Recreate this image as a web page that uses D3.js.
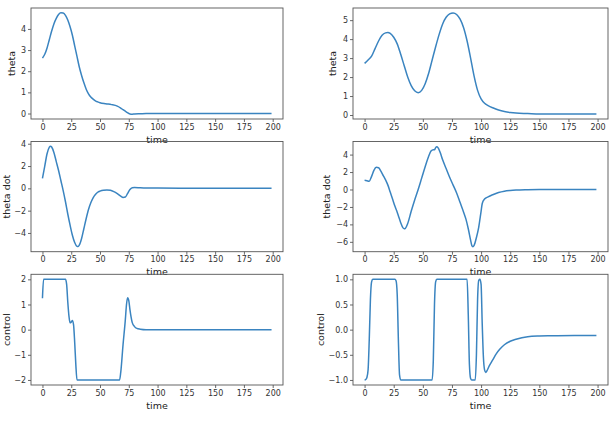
<!DOCTYPE html>
<html><head><meta charset="utf-8">
<script src="https://cdn.jsdelivr.net/npm/d3@7"></script>
<style>html,body{margin:0;padding:0;background:#fff;}svg{display:block;}</style>
</head><body>
<script>
// ---------- DATA ----------
const xTicks = [0, 25, 50, 75, 100, 125, 150, 175, 200];

const thetaL_t = [0,2,4,6,8,10,12,14,16,18,20,22,24,26,28,30,32,34,36,38,40,42,44,46,48,50,55,60,65,68,70,73,76,78,80,85,90,120,160,199];
const thetaL_v = [2.62,2.8,3.1,3.5,3.9,4.25,4.5,4.68,4.76,4.75,4.64,4.42,4.1,3.7,3.2,2.7,2.2,1.8,1.45,1.15,0.93,0.78,0.68,0.6,0.55,0.51,0.46,0.42,0.35,0.26,0.18,0.07,-0.02,-0.03,-0.02,-0.01,0,0,0,0];

const thetaR_t = [0,3,6,9,12,15,18,20,22,25,28,31,34,37,40,43,46,49,52,55,58,61,64,67,70,73,76,79,82,85,88,91,94,97,100,103,106,110,115,120,125,130,140,150,170,199];
const thetaR_v = [2.72,2.9,3.1,3.5,3.9,4.2,4.33,4.35,4.3,4.1,3.75,3.2,2.6,2.0,1.55,1.28,1.18,1.3,1.65,2.2,2.9,3.6,4.25,4.8,5.15,5.33,5.38,5.3,5.05,4.6,3.9,3.0,2.05,1.3,0.85,0.62,0.5,0.38,0.26,0.18,0.13,0.1,0.08,0.06,0.05,0.05];

const thetaDotL_t = [0,2,4,6,7,8,10,12,14,16,18,20,22,24,26,28,30,31,32,34,36,38,40,42,44,46,48,50,53,56,59,62,65,68,70,72,74,76,78,80,85,90,100,120,150,199];
const thetaDotL_v = [0.9,2.0,3.1,3.7,3.78,3.7,3.2,2.4,1.6,0.7,-0.2,-1.2,-2.3,-3.3,-4.2,-4.85,-5.2,-5.22,-5.1,-4.5,-3.6,-2.7,-1.9,-1.3,-0.85,-0.55,-0.35,-0.25,-0.17,-0.15,-0.18,-0.3,-0.48,-0.7,-0.82,-0.78,-0.45,-0.1,0.06,0.08,0.05,0.03,0.02,0.01,0,0];

const thetaDotR_t = [0,2,4,6,8,10,12,14,16,18,20,22,24,26,28,29,31,33,34,35,37,40,43,46,49,52,55,57,59,60,61,62,63,65,67,70,73,76,79,82,85,87,89,91,92,93,94,96,98,100,101,103,106,110,115,120,125,130,140,150,170,199];
const thetaDotR_v = [1.05,1.0,0.95,1.5,2.2,2.55,2.5,2.1,1.6,1.1,0.5,-0.3,-1.1,-1.9,-2.6,-3.0,-3.8,-4.4,-4.5,-4.45,-3.9,-2.5,-1.2,0.0,1.3,2.6,3.8,4.4,4.55,4.55,4.8,4.9,4.8,4.2,3.4,2.4,1.4,0.5,-0.4,-1.5,-2.6,-3.4,-4.5,-5.8,-6.4,-6.55,-6.4,-5.5,-4.3,-2.5,-1.6,-1.1,-0.85,-0.6,-0.35,-0.2,-0.12,-0.07,-0.03,-0.01,0,0];

const controlL_t = [0,1,2,20,21,22,23,24,25,26,27,28,29,30,67,68,70,72,73,74,75,76,77,78,80,82,85,90,199];
const controlL_v = [1.25,2.0,2.0,2.0,1.8,1.1,0.55,0.27,0.3,0.36,0.2,-0.5,-1.4,-2.0,-2.0,-1.7,-0.6,0.4,1.0,1.27,1.15,0.8,0.5,0.28,0.12,0.05,0.02,0,0];

const controlR_t = [0,1,2,3,4,5,6,7,26,27,28,29,30,31,58,59,60,61,62,88,89,90,91,92,95,96,97,98,99,100,101,102,103,104,105,107,110,113,116,120,125,130,135,140,150,160,180,199];
const controlR_v = [-1.0,-0.99,-0.95,-0.8,-0.2,0.6,0.95,1.0,1.0,0.97,0.7,-0.2,-0.9,-1.0,-1.0,-0.6,0.5,0.95,1.0,1.0,0.3,-0.7,-0.97,-1.0,-1.0,-0.5,0.6,0.98,1.0,0.9,0.1,-0.55,-0.8,-0.85,-0.82,-0.72,-0.6,-0.48,-0.39,-0.3,-0.23,-0.19,-0.16,-0.14,-0.125,-0.12,-0.115,-0.115];

const yTicksThetaL = [0,1,2,3,4];
const yTicksThetaR = [0,1,2,3,4,5];
const yTicksDotL = [-4,-2,0,2,4];
const yTicksDotR = [-6,-4,-2,0,2,4];
const yTicksCtrlL = [-2,-1,0,1,2];
const yTicksCtrlR = [-1.0,-0.5,0.0,0.5,1.0];

const yLabels = ["theta", "theta dot", "control"];
const xLabel = "time";

// ---------- LAYOUT ----------
const W = 609, H = 432;
const cols = [{x0: 31, x1: 283}, {x0: 353, x1: 608}];
const rows = [{y0: 8, y1: 119}, {y0: 141.5, y1: 251.7}, {y0: 274.3, y1: 385}];
const xDomain = [-9.95, 208.95];

const fmtInt = d => d3.format("d")(d).replace("-", "\u2212");
const fmt1 = d => d3.format(".1f")(d).replace("-", "\u2212");

const panels = [
  {r:0,c:0,t:thetaL_t,v:thetaL_v,yd:[-0.26,4.99],ticks:yTicksThetaL,fmt:fmtInt,lab:yLabels[0],labX:12},
  {r:0,c:1,t:thetaR_t,v:thetaR_v,yd:[-0.21,5.64],ticks:yTicksThetaR,fmt:fmtInt,lab:yLabels[0],labX:333},
  {r:1,c:0,t:thetaDotL_t,v:thetaDotL_v,yd:[-5.68,4.2],ticks:yTicksDotL,fmt:fmtInt,lab:yLabels[1],labX:6.5},
  {r:1,c:1,t:thetaDotR_t,v:thetaDotR_v,yd:[-7.13,5.5],ticks:yTicksDotR,fmt:fmtInt,lab:yLabels[1],labX:327},
  {r:2,c:0,t:controlL_t,v:controlL_v,yd:[-2.2,2.2],ticks:yTicksCtrlL,fmt:fmtInt,lab:yLabels[2],labX:6.5},
  {r:2,c:1,t:controlR_t,v:controlR_v,yd:[-1.1,1.1],ticks:yTicksCtrlR,fmt:fmt1,lab:yLabels[2],labX:321}
];

const svg = d3.select("body").append("svg").attr("width", W).attr("height", H)
  .style("font-family", "'DejaVu Sans', sans-serif");
svg.append("rect").attr("width", W).attr("height", H).attr("fill", "#fff");

panels.forEach(p => {
  const C = cols[p.c], R = rows[p.r];
  const x = d3.scaleLinear().domain(xDomain).range([C.x0, C.x1]);
  const y = d3.scaleLinear().domain(p.yd).range([R.y1, R.y0]);
  const g = svg.append("g");

  const data = p.t.map((t, i) => [t, p.v[i]]);
  g.append("path").datum(data)
    .attr("fill", "none").attr("stroke", "#3a84c0").attr("stroke-width", 1.5)
    .attr("stroke-linejoin", "round")
    .attr("d", d3.line().x(d => x(d[0])).y(d => y(d[1])).curve(d3.curveMonotoneX));

  const xa = g.append("g").attr("transform", `translate(0,${R.y1})`)
    .call(d3.axisBottom(x).tickValues(xTicks).tickSize(3).tickPadding(2).tickFormat(d3.format("d")));
  const ya = g.append("g").attr("transform", `translate(${C.x0},0)`)
    .call(d3.axisLeft(y).tickValues(p.ticks).tickSize(3).tickPadding(2).tickFormat(p.fmt));
  [xa, ya].forEach(a => {
    a.select(".domain").remove();
    a.selectAll("line").attr("stroke", "#444").attr("stroke-width", 0.8);
    a.selectAll("text").attr("fill", "#333").style("font-size", "8px").style("font-family", "'DejaVu Sans', sans-serif");
  });

  g.append("rect").attr("x", C.x0).attr("y", R.y0)
    .attr("width", C.x1 - C.x0).attr("height", R.y1 - R.y0)
    .attr("fill", "none").attr("stroke", "#555").attr("stroke-width", 0.9);

  g.append("text").attr("x", (C.x0 + C.x1) / 2).attr("y", R.y1 + 23.5)
    .attr("text-anchor", "middle").style("font-size", "9.5px").attr("fill", "#222").text(xLabel);
  const cy = (R.y0 + R.y1) / 2;
  g.append("text").attr("transform", `translate(${p.labX + 3},${cy}) rotate(-90)`)
    .attr("text-anchor", "middle").style("font-size", "9.5px").attr("fill", "#222").text(p.lab);
});
</script>
</body></html>
